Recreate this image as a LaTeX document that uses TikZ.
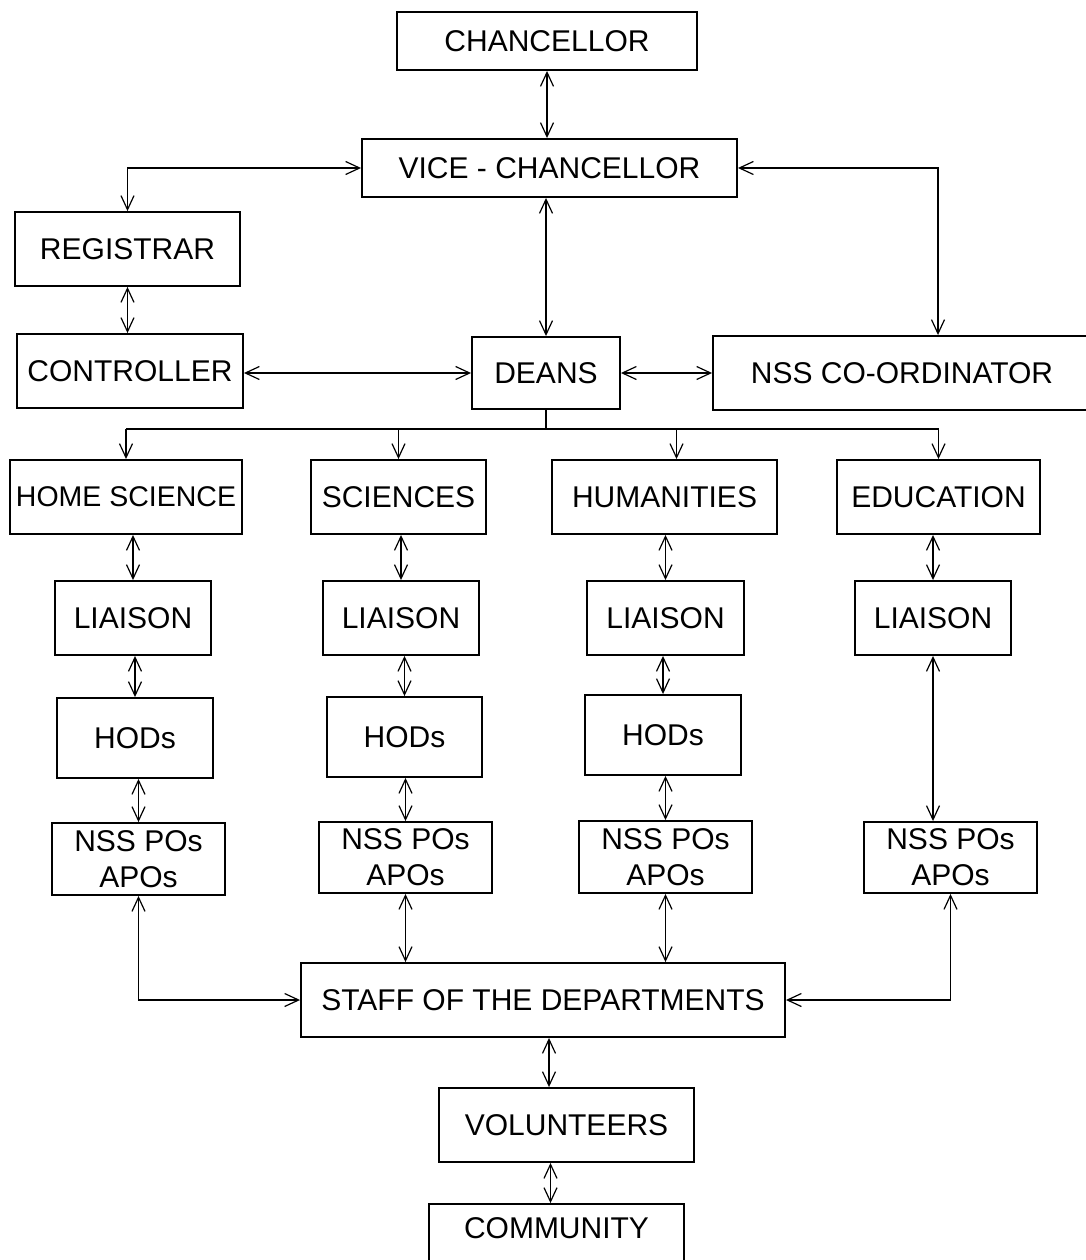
\documentclass[tikz,border=0pt]{standalone}
\usepackage{fontspec}
\setmainfont{Liberation Sans}
\usetikzlibrary{arrows.meta,calc}

\begin{document}
\begin{tikzpicture}[x=1pt,y=-1pt,
    box/.style={draw, line width=1.9pt, inner sep=2pt, align=center,
      font=\fontsize{30}{36}\selectfont, minimum height=74pt},
    link/.style={line width=1.2pt,
      {Straight Barb[length=14pt,width=13pt]}-{Straight Barb[length=14pt,width=13pt]}},
    down/.style={line width=1.2pt, -{Straight Barb[length=14pt,width=13pt]}},
    bus/.style={line width=1.2pt}]
  \useasboundingbox (0,0) rectangle (1086,1260);

  % top of the chart
  \node[box, minimum width=300pt, minimum height=58pt] (chancellor) at (547,41) {CHANCELLOR};
  \node[box, minimum width=375pt, minimum height=58pt] (vc) at (549.5,168) {VICE - CHANCELLOR};
  \node[box, minimum width=225pt] (registrar) at (127.5,249) {REGISTRAR};
  \node[box, minimum width=226pt] (controller) at (130,371) {CONTROLLER};
  \node[box, minimum width=148pt, minimum height=72pt] (deans) at (546,373) {DEANS};
  \node[box, minimum width=378pt] (nsscoord) at (902,373) {NSS CO-ORDINATOR};

  % faculties
  \node[box, minimum width=232pt, inner sep=0pt, font=\fontsize{28.5}{34}\selectfont] (fac-hs) at (126,497) {HOME SCIENCE};
  \node[box, minimum width=175pt] (fac-sci) at (398.5,497) {SCIENCES};
  \node[box, minimum width=225pt] (fac-hum) at (664.5,497) {HUMANITIES};
  \node[box, minimum width=203pt] (fac-edu) at (938.5,497) {EDUCATION};

  \node[box, minimum width=156pt] (lia-hs) at (133,618) {LIAISON};
  \node[box, minimum width=156pt] (lia-sci) at (401,618) {LIAISON};
  \node[box, minimum width=157pt] (lia-hum) at (665.5,618) {LIAISON};
  \node[box, minimum width=156pt] (lia-edu) at (933,618) {LIAISON};

  \node[box, minimum width=156pt, minimum height=80pt] (hod-hs) at (135,738) {HODs};
  \node[box, minimum width=155pt, minimum height=80pt] (hod-sci) at (404.5,737) {HODs};
  \node[box, minimum width=156pt, minimum height=80pt] (hod-hum) at (663,735) {HODs};

  \node[box, minimum width=173pt, minimum height=72pt] (nss-hs) at (138.5,859) {NSS POs\\APOs};
  \node[box, minimum width=173pt, minimum height=71pt] (nss-sci) at (405.5,857.5) {NSS POs\\APOs};
  \node[box, minimum width=173pt, minimum height=72pt] (nss-hum) at (665.5,857) {NSS POs\\APOs};
  \node[box, minimum width=173pt, minimum height=71pt] (nss-edu) at (950.5,857.5) {NSS POs\\APOs};

  % bottom of the chart
  \node[box, minimum width=484pt] (staff) at (543,1000) {STAFF OF THE DEPARTMENTS};
  \node[box, minimum width=255pt] (volunteers) at (566.5,1125) {VOLUNTEERS};
  \node[box, minimum width=255pt, text depth=26pt] (community) at (556.5,1241) {COMMUNITY};

  % connectors
  \draw[link] (chancellor.south) -- (chancellor.south |- vc.north);
  \draw[link] (registrar.north) |- (vc.west);
  \coordinate (nsstop) at ([xshift=36pt]nsscoord.north);
  \draw[link] (vc.east) -| (nsstop);
  \draw[link] (deans.north) -- (deans.north |- vc.south);
  \draw[link] (registrar.south) -- (registrar.south |- controller.north);
  \draw[link] (deans.west -| controller.east) -- (deans.west);
  \draw[link] (deans.east) -- (deans.east -| nsscoord.west);

  \coordinate (bus) at ($(deans.south)+(0,19)$);
  \coordinate (humtop) at ([xshift=12pt]fac-hum.north);
  \draw[bus] (deans.south) -- (bus);
  \draw[bus] (bus -| fac-hs) -- (bus -| fac-edu);
  \foreach \f in {fac-hs,fac-sci,fac-edu}
    \draw[down] (bus -| \f) -- (\f.north);
  \draw[down] (bus -| humtop) -- (humtop);

  \foreach \c in {hs,sci,hum} {
    \draw[link] (lia-\c.north) -- (lia-\c.north |- fac-\c.south);
    \draw[link] (hod-\c.north) -- (hod-\c.north |- lia-\c.south);
    \draw[link] (nss-\c.north) -- (nss-\c.north |- hod-\c.south);
  }
  \draw[link] (lia-edu.north) -- (lia-edu.north |- fac-edu.south);
  \draw[link] (lia-edu.south) -- (lia-edu.south |- nss-edu.north);

  \draw[link] (nss-hs.south) |- (staff.west);
  \draw[link] (nss-sci.south) -- (nss-sci.south |- staff.north);
  \draw[link] (nss-hum.south) -- (nss-hum.south |- staff.north);
  \draw[link] (nss-edu.south) |- (staff.east);

  \coordinate (s1) at ([xshift=6pt]staff.south);
  \draw[link] (s1) -- (s1 |- volunteers.north);
  \coordinate (c1) at ([xshift=-6pt]community.north);
  \draw[link] (c1) -- (c1 |- volunteers.south);
\end{tikzpicture}
\end{document}
